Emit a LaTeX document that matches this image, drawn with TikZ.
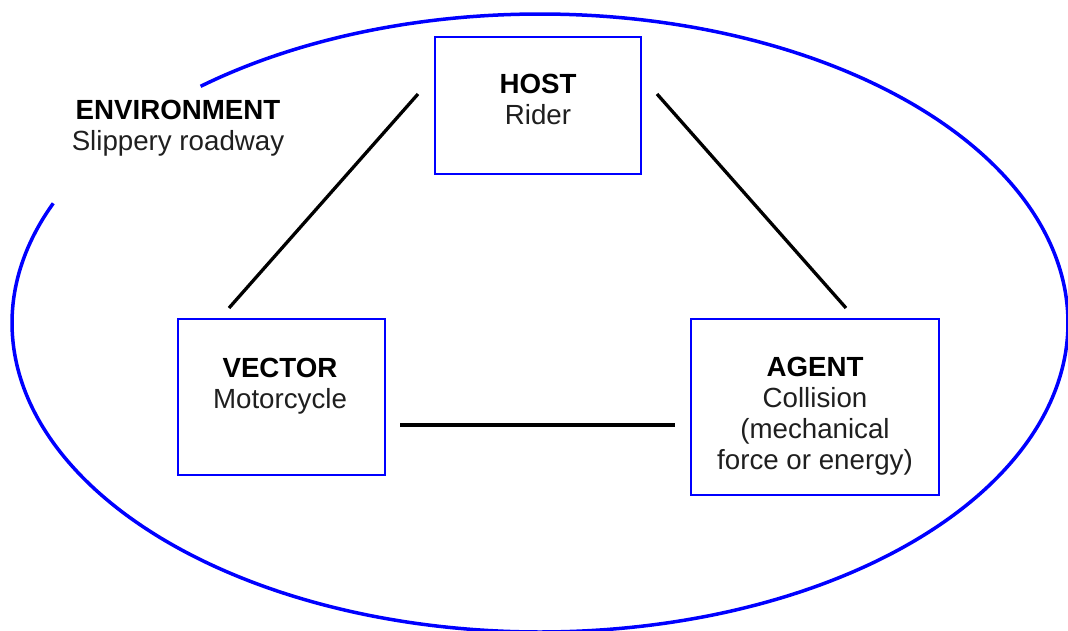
\documentclass[tikz,border=0pt]{standalone}
\usepackage{fontspec}
\setmainfont{Liberation Sans}
\definecolor{txtgray}{rgb}{0.12,0.12,0.12}
\begin{document}
\begin{tikzpicture}[x=1pt,y=-1pt,
  box/.style={draw=blue, line width=2pt, inner sep=0pt, outer sep=0pt, rectangle},
  txt/.style={anchor=base, inner sep=0pt, text=txtgray, font=\fontsize{27.7}{31}\selectfont},
  link/.style={draw=black, line width=3.3pt},
  env/.style={draw=blue, line width=3.5pt}
]
\useasboundingbox (0,0) rectangle (1068,630);

% environment ellipse with a gap at the upper left
\draw[env] plot[domain=230:562.8, samples=240, smooth] ({540+528*cos(\x)},{323+309*sin(\x)});

% boxes
\node[box, minimum width=206pt, minimum height=137pt] (host) at (538,105.5) {};
\node[box, minimum width=207pt, minimum height=156pt] (vector) at (281.5,397) {};
\node[box, minimum width=248pt, minimum height=176pt] (agent) at (815,407) {};

% texts
\node[txt] (envT) at (178,119) {\begin{tabular}[t]{@{}c@{}}\textcolor{black}{\textbf{ENVIRONMENT}}\\Slippery roadway\end{tabular}};
\node[txt] (hostT) at (538,93) {\begin{tabular}[t]{@{}c@{}}\textcolor{black}{\textbf{HOST}}\\Rider\end{tabular}};
\node[txt] (vectorT) at (280,377) {\begin{tabular}[t]{@{}c@{}}\textcolor{black}{\textbf{VECTOR}}\\Motorcycle\end{tabular}};
\node[txt] (agentT) at (815,376) {\begin{tabular}[t]{@{}c@{}}\textcolor{black}{\textbf{AGENT}}\\Collision\\(mechanical\\force or energy)\end{tabular}};

% connector end points (lines do not touch the boxes)
\coordinate (hv1) at (418,94);
\coordinate (hv2) at (229,308);
\coordinate (ha1) at (657,94);
\coordinate (ha2) at (846,308);
\coordinate (va1) at (400,425);
\coordinate (va2) at (675,425);

\draw[link] (hv1) -- (hv2);
\draw[link] (ha1) -- (ha2);
\draw[link] (va1) -- (va2);
\end{tikzpicture}
\end{document}
